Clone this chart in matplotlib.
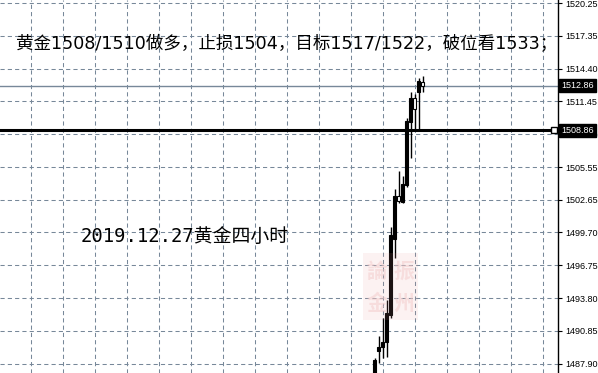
import matplotlib
matplotlib.use("Agg")
import matplotlib.pyplot as plt
from matplotlib import font_manager
import numpy as np
from matplotlib.patches import Rectangle

# ---- data (4-hour gold candles) ----
opens  = [1486.30, 1489.06, 1489.44, 1489.89, 1492.29, 1499.11, 1502.97, 1502.43, 1503.96, 1509.61, 1511.77, 1512.31, 1513.20]
highs  = [1488.43, 1490.40, 1492.02, 1493.63, 1500.19, 1503.57, 1505.21, 1504.77, 1510.00, 1512.31, 1512.13, 1513.59, 1513.70]
lows   = [1486.00, 1487.98, 1488.43, 1488.52, 1492.02, 1497.40, 1502.34, 1502.37, 1503.80, 1506.38, 1508.80, 1508.80, 1512.33]
closes = [1488.25, 1489.44, 1489.89, 1492.47, 1499.47, 1502.97, 1502.52, 1504.05, 1509.70, 1511.77, 1510.78, 1513.29, 1512.86]
bid_price = 1512.86
level_price = 1508.86
price_ticks = [1487.90, 1490.85, 1493.80, 1496.75, 1499.70, 1502.65, 1505.55, 1508.50, 1511.45, 1514.40, 1517.35, 1520.25]
title_text = "黄金1508/1510做多，止损1504，目标1517/1522，破位看1533；"
date_text = "2019.12.27黄金四小时"

# axis label font: narrow sans if available
try:
    font_manager.findfont(font_manager.FontProperties(family="Liberation Sans Narrow"),
                          fallback_to_default=False)
    tick_font, tick_size = "Liberation Sans Narrow", 8.0
except Exception:
    tick_font, tick_size = "Liberation Sans", 6.5

W, H = 598, 373
fig = plt.figure(figsize=(W / 100, H / 100), dpi=100)
ax_right = 558
ax = fig.add_axes([0, 0, ax_right / W, 1])

px_per_bar = 4.0
x0 = 374.5
ax.set_xlim(-x0 / px_per_bar, (ax_right - x0) / px_per_bar)
ax.set_ylim(1487.08, 1520.56)

grid_col = "#778899"
for p in price_ticks:
    ax.axhline(p, color=grid_col, lw=0.75, ls=(0, (4, 3)), zorder=1)
for gx in np.arange(-86, 46, 8):
    ax.axvline(gx, color=grid_col, lw=0.75, ls=(0, (4, 3)), zorder=1)

ax.axhline(bid_price, color=grid_col, lw=1.0, zorder=2)

xs = np.arange(len(opens))
ax.vlines(xs, lows, highs, color="black", lw=1.0, zorder=3)
for x, o, c in zip(xs, opens, closes):
    bull = c >= o
    ax.add_patch(Rectangle((x - 0.32, min(o, c)), 0.64, max(abs(c - o), 0.03),
                           facecolor="black" if bull else "white",
                           edgecolor="black", lw=0.8, zorder=4))

ax.axhline(level_price, color="black", lw=2.2, zorder=5)
ax.plot([(554 - x0) / px_per_bar], [level_price], marker="s", ms=4.5,
        mfc="white", mec="black", mew=1.0, zorder=6, clip_on=False)

# watermark
wm = Rectangle(((363 - x0) / px_per_bar, 1520.25 - (320 - 3.5) / 11.14),
               55 / px_per_bar, 67 / 11.14, facecolor="#e89a9a", alpha=0.12,
               edgecolor="none", zorder=7)
ax.add_patch(wm)
for (cx, cy, ch) in [(377, 271, "論"), (404, 271, "振"), (377, 303, "金"), (404, 303, "州")]:
    fig.text(cx / W, 1 - cy / H, ch, fontsize=15, color="#f3caca", alpha=0.5,
             ha="center", va="center", family=["Noto Sans CJK TC", "Noto Sans CJK SC"],
             fontweight="bold", zorder=8)

for s in ["left", "top", "bottom"]:
    ax.spines[s].set_visible(False)
ax.spines["right"].set_color("black")
ax.spines["right"].set_linewidth(1.0)
ax.set_xticks([])
ax.yaxis.tick_right()
ax.set_yticks(price_ticks)
ax.set_yticklabels([f"{p:.2f}" for p in price_ticks])
ax.tick_params(axis="y", length=3, width=0.8, pad=2, labelsize=tick_size,
               colors="black")
for lbl in ax.get_yticklabels():
    lbl.set_family(tick_font)

def price_tag(price):
    y = ax.transData.transform((0, price))[1]
    fig.text(561 / W, y / H, f"{price:.2f}", fontsize=tick_size, family=tick_font,
             color="white", ha="left", va="center", zorder=10,
             bbox=dict(boxstyle="square,pad=0.22", fc="black", ec="black"))

price_tag(bid_price)
price_tag(level_price)

fig.text(16 / W, 1 - 44 / H, title_text, fontsize=12.6,
         family=["DejaVu Sans", "Noto Sans CJK SC"], color="black",
         ha="left", va="center", zorder=10)
fig.text(81 / W, 1 - 236 / H, date_text, fontsize=13.6,
         family=["DejaVu Sans Mono", "Noto Sans CJK SC"], color="black",
         ha="left", va="center", zorder=10)

fig.savefig("out.png", dpi=100, facecolor="white")
